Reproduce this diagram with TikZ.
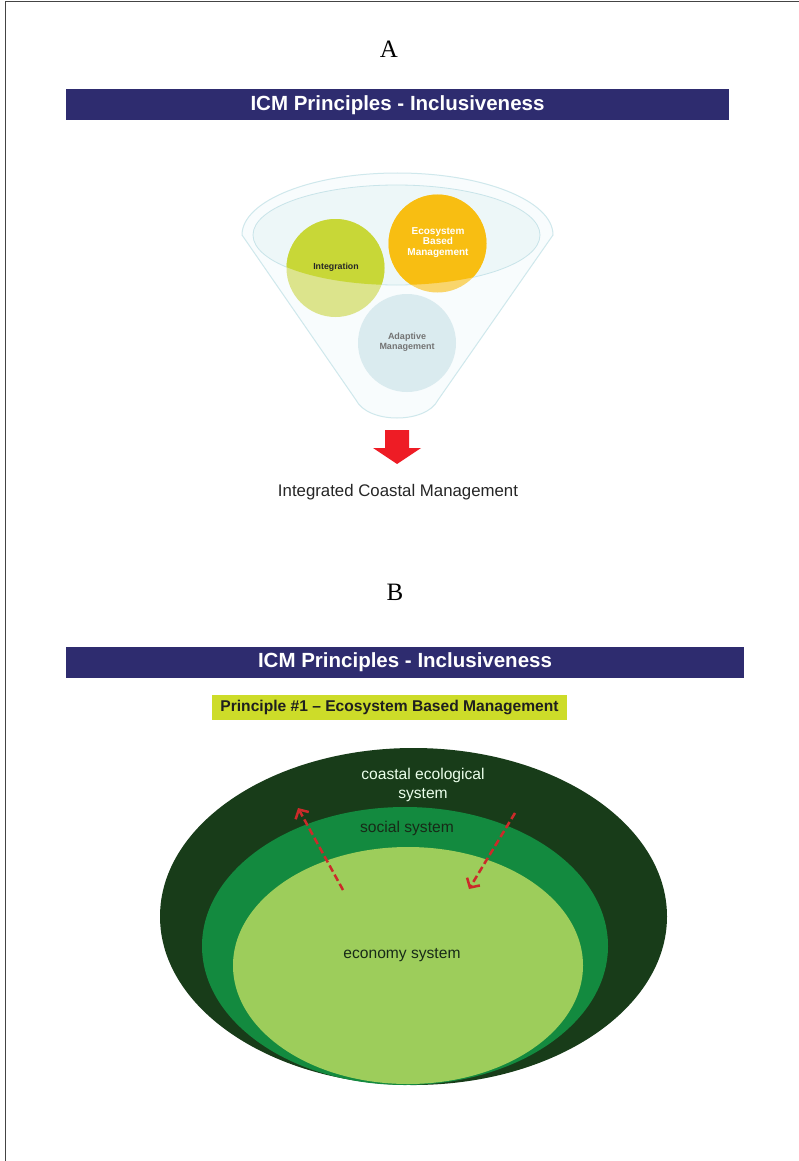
\documentclass[tikz,border=0pt]{standalone}
\usepackage{fontspec}
\setmainfont{Liberation Sans}
\newfontfamily\serifA{Liberation Serif}
\usetikzlibrary{arrows.meta,shapes.geometric}
\definecolor{navy}{HTML}{2E2C6F}
\definecolor{limebox}{HTML}{CDDC29}
\definecolor{framecol}{HTML}{444444}
\definecolor{funnelline}{HTML}{CFE8EC}
\definecolor{funnelfill}{HTML}{F8FCFD}
\definecolor{mouthfill}{HTML}{EDF7F8}
\definecolor{mouthline}{HTML}{C8E4E9}
\definecolor{intlight}{HTML}{DCE48C}
\definecolor{intdark}{HTML}{C8D737}
\definecolor{ebmlight}{HTML}{F9D56C}
\definecolor{ebmdark}{HTML}{F8BE12}
\definecolor{adpfill}{HTML}{DAEBEF}
\definecolor{bigred}{HTML}{EE1C25}
\definecolor{dashred}{HTML}{CC2A2A}
\definecolor{ecoout}{HTML}{183C19}
\definecolor{ecomid}{HTML}{138A3F}
\definecolor{ecoin}{HTML}{9DCD5B}
\definecolor{darktext}{HTML}{172A17}
\begin{document}
\begin{tikzpicture}[x=1pt,y=-1pt,
  titlebar/.style={fill=navy, text=white, inner sep=0pt, minimum width=#1, minimum height=31pt,
    font=\bfseries\fontsize{20.5}{24}\selectfont},
  panel/.style={font=\serifA\fontsize{25}{28}\selectfont, inner sep=0pt},
  ball/.style={circle, minimum size=98pt, inner sep=0pt},
  ring/.style={ellipse, inner sep=0pt},
  dasharrow/.style={dashred, line width=2.5pt, dash pattern=on 7pt off 3.5pt,
    -{Straight Barb[length=7pt,width=15pt]}},
  sys/.style={font=\fontsize{15.6}{19}\selectfont, align=center, inner sep=0pt}
]
\useasboundingbox (0,0) rectangle (799,1161);
\fill[white] (0,0) rectangle (799,1161);
\draw[framecol, line width=1.4pt] (5.5,1161) -- (5.5,1.5) -- (799,1.5);

% ---------- Panel A ----------
\node[panel] (labA) at (389,49) {A};
\node[titlebar=663pt] (barA) at (397.5,105) {ICM Principles - Inclusiveness};

% funnel
\draw[funnelline, fill=funnelfill, line width=1pt]
  (242,235) arc[start angle=180, end angle=0, x radius=155.5pt, y radius=62pt]
  -- (438,400) .. controls (426,424) and (368,424) .. (356,400) -- cycle;
\draw[mouthline, fill=mouthfill, line width=0.8pt] (396.5,235) ellipse [x radius=143.5pt, y radius=50pt];

\node[ball, fill=intlight] (int) at (335.5,268) {};
\node[ball, fill=ebmlight] (ebm) at (437.5,243.5) {};
\node[ball, fill=adpfill] (adp) at (407,343) {};
\begin{scope}
  \clip (396.5,235) ellipse [x radius=143.5pt, y radius=50pt];
  \fill[intdark] (int.center) circle [radius=49pt];
  \fill[ebmdark] (ebm.center) circle [radius=49pt];
\end{scope}
\node[font=\bfseries\fontsize{8.8}{10}\selectfont, text=black!85, inner sep=0pt] (intT) at (336,267) {Integration};
\node[font=\bfseries\fontsize{10}{10.5}\selectfont, text=white, align=center, inner sep=0pt] (ebmT) at (438,242.5) {Ecosystem\\Based\\Management};
\node[font=\bfseries\fontsize{9}{10}\selectfont, text=black!55, align=center, inner sep=0pt] (adpT) at (407,342) {Adaptive\\Management};

% big red arrow
\fill[bigred] (385,430) -- (409,430) -- (409,448) -- (421,448) -- (397,464) -- (373,448) -- (385,448) -- cycle;
\node[font=\fontsize{16.8}{20}\selectfont, text=black!85, inner sep=0pt] (icm) at (398,492) {Integrated Coastal Management};

% ---------- Panel B ----------
\node[panel] (labB) at (395,592) {B};
\node[titlebar=678pt] (barB) at (405,662) {ICM Principles - Inclusiveness};
\node[fill=limebox, minimum width=355pt, minimum height=25pt, inner sep=0pt,
  font=\bfseries\fontsize{15.6}{18}\selectfont, text=black!88] (prin) at (389.5,707.5)
  {Principle \#1 -- Ecosystem Based Management};

\node[ring, fill=ecoout, minimum width=507pt, minimum height=337pt] (outer) at (413.5,916.5) {};
\node[ring, fill=ecomid, minimum width=406pt, minimum height=278pt] (mid) at (405,946) {};
\node[ring, fill=ecoin, minimum width=350pt, minimum height=237pt] (inner) at (408,965.5) {};

\node[sys, text=white!92!green] (coast) at (423,784.5) {coastal ecological\\system};
\node[sys, text=darktext] (social) at (407,828) {social system};
\node[sys, text=darktext] (econ) at (402,955) {economy system};

\coordinate (a1s) at (343,890);
\coordinate (a1e) at (298,808);
\coordinate (a2s) at (515,813);
\coordinate (a2e) at (469,889);
\draw[dasharrow] (a1s) -- (a1e);
\draw[dasharrow] (a2s) -- (a2e);
\end{tikzpicture}
\end{document}
